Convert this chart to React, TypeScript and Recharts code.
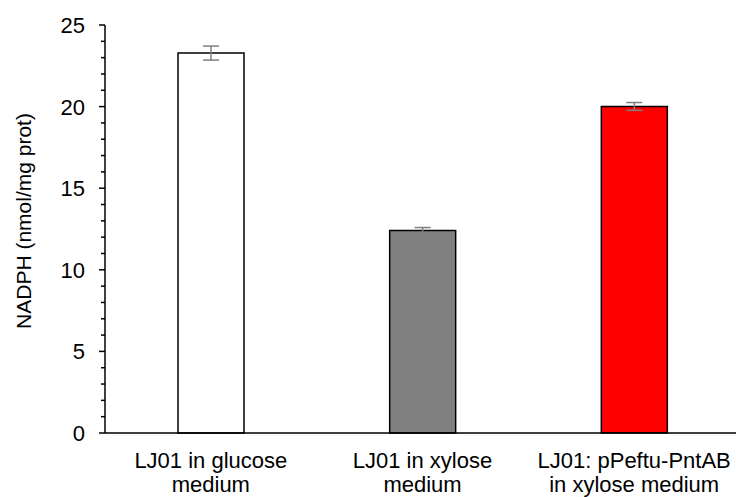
import React from 'react';
import { BarChart, Bar, XAxis, YAxis, ErrorBar, Cell, Label } from 'recharts';

// Strains / growth conditions (line breaks mark the wrapped label)
const categories = [
  'LJ01 in glucose\nmedium',
  'LJ01 in xylose\nmedium',
  'LJ01: pPeftu-PntAB\nin xylose medium',
];
// NADPH content, nmol/mg protein
const nadphValues = [23.28, 12.41, 20.01];
// Standard deviation
const nadphErrors = [0.43, 0.18, 0.24];
const barFills = ['#ffffff', '#808080', '#ff0000'];
// Every integer gets a tick; multiples of five are labelled
const yTicks = [0, 1, 2, 3, 4, 5, 6, 7, 8, 9, 10, 11, 12, 13, 14, 15, 16, 17, 18, 19, 20, 21, 22, 23, 24, 25];
const yTitle = 'NADPH (nmol/mg prot)';

const data = categories.map((name, i) => ({
  name,
  value: nadphValues[i],
  err: nadphErrors[i],
}));

const FONT = '"Liberation Sans", Arial, sans-serif';
const TICK_SIZE = 6;
const TICK_MARGIN = 14;

function YTick(props: any) {
  const { x, y, payload } = props;
  const v = payload.value as number;
  const major = v % 5 === 0;
  const axisX = x + TICK_SIZE + TICK_MARGIN;
  return (
    <g>
      <line
        x1={axisX - (major ? 6 : 4)}
        x2={axisX}
        y1={y}
        y2={y}
        stroke="#000"
        strokeWidth={1.5}
      />
      {major && (
        <text
          x={x}
          y={y}
          dy="0.36em"
          textAnchor="end"
          fontFamily={FONT}
          fontSize={22}
          fill="#000"
        >
          {v}
        </text>
      )}
    </g>
  );
}

function XTick(props: any) {
  const { x, y, payload } = props;
  const lines = String(payload.value).split('\n');
  return (
    <text
      x={x}
      y={y}
      textAnchor="middle"
      fontFamily={FONT}
      fontSize={22}
      fill="#000"
    >
      {lines.map((line, i) => (
        <tspan key={i} x={x} dy={i === 0 ? 27 : 24}>
          {line}
        </tspan>
      ))}
    </text>
  );
}

export default function App() {
  return (
    <div
      style={{
        position: 'absolute',
        left: 0,
        top: 0,
        width: 736,
        height: 497,
        overflow: 'hidden',
        background: '#fff',
      }}
    >
      <BarChart
        width={740}
        height={497}
        data={data}
        margin={{ top: 25, right: 0, bottom: 0, left: 0 }}
      >
        <XAxis
          dataKey="name"
          height={64}
          tickLine={false}
          axisLine={{ stroke: '#000', strokeWidth: 1.5 }}
          tick={<XTick />}
          interval={0}
        />
        <YAxis
          width={105}
          domain={[0, 25]}
          ticks={yTicks}
          interval={0}
          tickLine={false}
          tickSize={TICK_SIZE}
          tickMargin={TICK_MARGIN}
          axisLine={{ stroke: '#000', strokeWidth: 1.5 }}
          tick={<YTick />}
        >
          <Label
            content={() => (
              <text
                transform="translate(31,221) rotate(-90)"
                textAnchor="middle"
                fontFamily={FONT}
                fontSize={21}
                fill="#000"
              >
                {yTitle}
              </text>
            )}
          />
        </YAxis>
        <Bar
          dataKey="value"
          barSize={66}
          stroke="#000"
          strokeWidth={1.5}
          isAnimationActive={false}
        >
          {data.map((_, i) => (
            <Cell key={i} fill={barFills[i]} />
          ))}
          <ErrorBar
            dataKey="err"
            width={8}
            stroke="#7f7f7f"
            strokeWidth={1.5}
            direction="y"
          />
        </Bar>
      </BarChart>
    </div>
  );
}
